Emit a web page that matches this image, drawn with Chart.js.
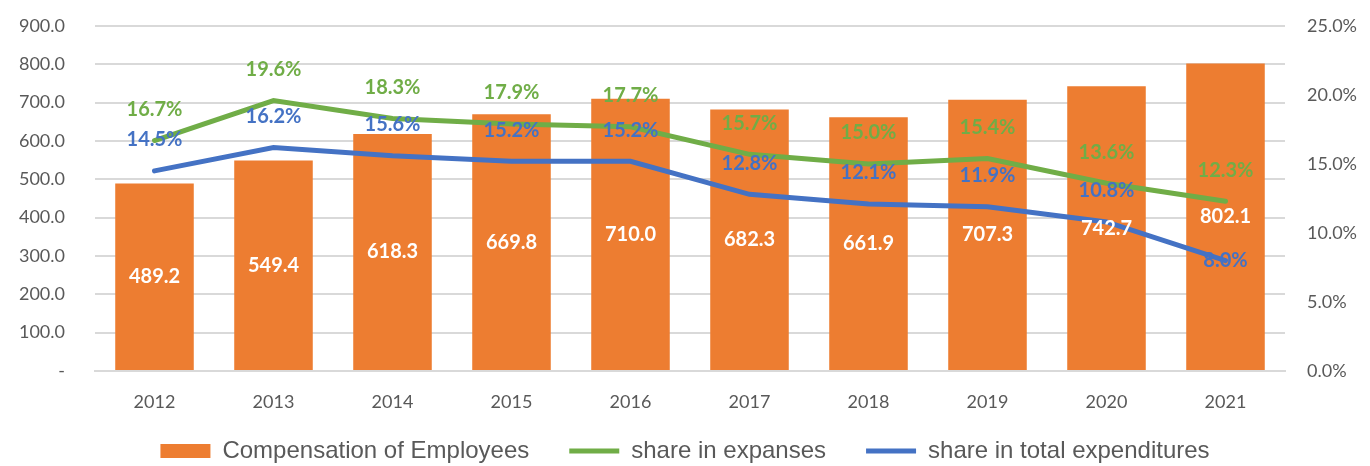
<!DOCTYPE html>
<html>
<head>
<meta charset="utf-8">
<script src="https://cdn.jsdelivr.net/npm/chart.js@4"></script>
<style>
  html, body { margin: 0; padding: 0; background: #fff; }
  #wrap { width: 1370px; height: 466px; }
</style>
</head>
<body>
<div id="wrap"><canvas id="chart"></canvas></div>
<script>
const years = ['2012', '2013', '2014', '2015', '2016', '2017', '2018', '2019', '2020', '2021'];
const compensation = [489.2, 549.4, 618.3, 669.8, 710.0, 682.3, 661.9, 707.3, 742.7, 802.1];
const shareExpanses = [16.7, 19.6, 18.3, 17.9, 17.7, 15.7, 15.0, 15.4, 13.6, 12.3];
const shareTotal = [14.5, 16.2, 15.6, 15.2, 15.2, 12.8, 12.1, 11.9, 10.8, 8.0];

const tickFont = { family: 'Lato', size: 18 };
const labelFont = 'bold 20px Lato';

// draws the value labels, Excel style
const valueLabels = {
    id: 'valueLabels',
    afterDatasetsDraw(chart) {
        const ctx = chart.ctx;
        ctx.save();
        ctx.font = labelFont;
        ctx.textAlign = 'center';
        ctx.textBaseline = 'middle';
        chart.data.datasets.forEach((ds, d) => {
            const meta = chart.getDatasetMeta(d);
            meta.data.forEach((el, i) => {
                if (ds.type === 'bar') {
                    ctx.fillStyle = '#ffffff';
                    ctx.fillText(ds.data[i].toFixed(1), el.x, (el.y + el.base) / 2);
                } else {
                    const lift = (d === 2 && i === ds.data.length - 1) ? 0 : 31;
                    ctx.fillStyle = ds.borderColor;
                    ctx.fillText(ds.data[i].toFixed(1) + '%', el.x, el.y - lift);
                }
            });
        });
        ctx.restore();
    }
};

// the wide legend padding overlaps the x axis box, so let the year labels spill into it
const axisOverlap = {
    id: 'axisOverlap',
    afterLayout(chart) {
        chart.scales.x.bottom += 30;
    }
};

new Chart(document.getElementById('chart'), {
    data: {
        labels: years,
        datasets: [{
            type: 'bar',
            label: 'Compensation of Employees',
            data: compensation,
            backgroundColor: '#ED7D31',
            yAxisID: 'y',
            categoryPercentage: 0.66,
            barPercentage: 1,
            order: 3,
            pointStyle: 'rect'
        }, {
            type: 'line',
            label: 'share in expanses',
            data: shareExpanses,
            borderColor: '#70AD47',
            backgroundColor: '#70AD47',
            borderWidth: 5,
            borderCapStyle: 'round',
            pointRadius: 0,
            yAxisID: 'y1',
            order: 1,
            pointStyle: 'line'
        }, {
            type: 'line',
            label: 'share in total expenditures',
            data: shareTotal,
            borderColor: '#4472C4',
            backgroundColor: '#4472C4',
            borderWidth: 5,
            borderCapStyle: 'round',
            pointRadius: 0,
            yAxisID: 'y1',
            order: 2,
            pointStyle: 'line'
        }]
    },
    options: {
        responsive: true,
        maintainAspectRatio: false,
        animation: false,
        layout: { padding: 0 },
        plugins: {
            tooltip: { enabled: false },
            legend: {
                position: 'bottom',
                maxHeight: 67,
                labels: {
                    usePointStyle: true,
                    pointStyleWidth: 50,
                    boxHeight: 14,
                    padding: 40,
                    color: '#595959',
                    font: { family: 'Liberation Sans', size: 24 },
                    sort: (a, b) => a.datasetIndex - b.datasetIndex
                }
            }
        },
        scales: {
            x: {
                grid: { display: false },
                border: { color: '#D9D9D9', width: 2 },
                ticks: { color: '#595959', font: tickFont, padding: 12 },
                afterFit: s => { s.height = 28; }
            },
            y: {
                position: 'left',
                min: 0,
                max: 900,
                grid: { color: '#D9D9D9', lineWidth: 2, drawTicks: false },
                border: { display: false },
                ticks: {
                    stepSize: 100,
                    color: '#595959',
                    font: tickFont,
                    padding: 30,
                    callback: v => v === 0 ? '-' : v.toFixed(1)
                },
                afterFit: s => { s.width = 95; s.paddingTop = 26; }
            },
            y1: {
                position: 'right',
                min: 0,
                max: 25,
                grid: { display: false },
                border: { display: false },
                ticks: {
                    stepSize: 5,
                    color: '#595959',
                    font: tickFont,
                    padding: 14,
                    callback: v => v.toFixed(1) + '%'
                },
                afterFit: s => { s.width = 85; s.paddingTop = 26; }
            }
        }
    },
    plugins: [valueLabels, axisOverlap]
});
</script>
</body>
</html>
